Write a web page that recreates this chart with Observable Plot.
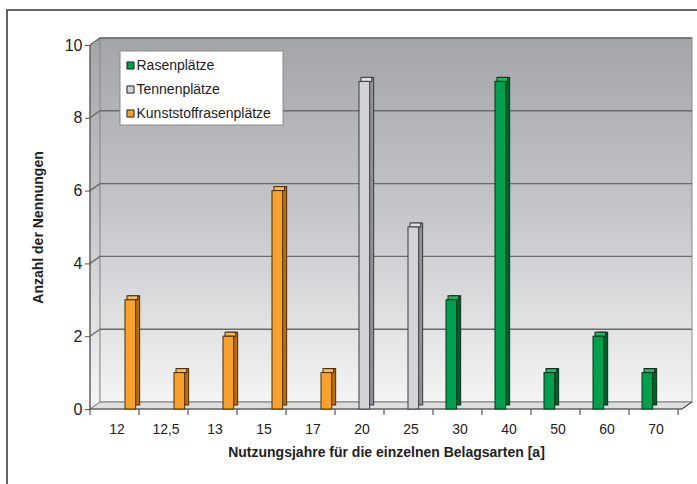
<!DOCTYPE html>
<html><head><meta charset="utf-8">
<script src="https://cdn.jsdelivr.net/npm/d3@7"></script>
<script src="https://cdn.jsdelivr.net/npm/@observablehq/plot@0.6"></script>
<style>body{margin:0;background:#fff;}</style>
</head><body><div id="chart"></div>
<script>
const categories = ["12","12,5","13","15","17","20","25","30","40","50","60","70"];
const seriesNames = ["Rasenplätze","Tennenplätze","Kunststoffrasenplätze"];
const categorySeries = ["Kunststoffrasenplätze","Kunststoffrasenplätze","Kunststoffrasenplätze","Kunststoffrasenplätze","Kunststoffrasenplätze","Tennenplätze","Tennenplätze","Rasenplätze","Rasenplätze","Rasenplätze","Rasenplätze","Rasenplätze"];
const values = [3,1,2,6,1,9,5,3,9,1,2,1];
const yTicks = [0,2,4,6,8,10];
const xTitle = "Nutzungsjahre für die einzelnen Belagsarten [a]";
const yTitle = "Anzahl der Nennungen";

const frontColors = ["#00a04e","#d4d4d8","#f9a12e"];
const topColors = ["#1fb866","#e4e4e8","#fbb955"];
const sideColors = ["#00602d","#909096","#b56d14"];
const edgeColors = ["#0b3018","#3a3a3e","#4a2c00"];

const data = categories.map((c, i) => ({cat: c, series: categorySeries[i], value: values[i]}));

const W = 697, H = 484, mL = 90, mR = 15, mT = 45, mB = 75;
const bw = (W - mL - mR) / categories.length;
const DX = 10, DY = -7;

function chrome(index, scales, vals, dim) {
  const x0 = dim.marginLeft, x1 = dim.width - dim.marginRight;
  const y = scales.y;
  const yb = y(0), yt = y(10);
  const g = d3.create("svg:g");
  // outer border
  g.append("rect").attr("x", 7).attr("y", 10).attr("width", 720).attr("height", 500)
    .attr("fill", "none").attr("stroke", "#333").attr("stroke-width", 1.5);
  const defs = g.append("defs");
  const lg = defs.append("linearGradient").attr("id", "wallGrad")
    .attr("gradientUnits", "userSpaceOnUse")
    .attr("x1", 0).attr("y1", yt + DY).attr("x2", 0).attr("y2", yb);
  lg.append("stop").attr("offset", "0%").attr("stop-color", "#a4a5a9");
  lg.append("stop").attr("offset", "45%").attr("stop-color", "#c3c4c8");
  lg.append("stop").attr("offset", "100%").attr("stop-color", "#f6f6f6");
  // side wall
  g.append("path")
    .attr("d", `M${x0},${yt}L${x0 + DX},${yt + DY}L${x0 + DX},${yb + DY}L${x0},${yb}Z`)
    .attr("fill", "url(#wallGrad)").attr("stroke", "#9a9a9a").attr("stroke-width", 0.8);
  // back wall
  g.append("rect").attr("x", x0 + DX).attr("y", yt + DY).attr("width", x1 - x0).attr("height", yb - yt)
    .attr("fill", "url(#wallGrad)").attr("stroke", "#8a8a8a").attr("stroke-width", 1);
  // gridlines
  for (const t of yTicks.filter(t => t > 0)) {
    const yy = y(t);
    g.append("path").attr("d", `M${x0},${yy}L${x0 + DX},${yy + DY}L${x1 + DX},${yy + DY}`)
      .attr("fill", "none").attr("stroke", "#6a6a6a").attr("stroke-width", 1.4);
  }
  // floor
  g.append("path")
    .attr("d", `M${x0},${yb}L${x0 + DX},${yb + DY}L${x1 + DX},${yb + DY}L${x1},${yb}Z`)
    .attr("fill", "#dedede").attr("stroke", "#7a7a7a").attr("stroke-width", 1);
  // front axis lines
  g.append("path").attr("d", `M${x0},${yt}L${x0},${yb}L${x1},${yb}L${x1 + DX},${yb + DY}`)
    .attr("fill", "none").attr("stroke", "#555").attr("stroke-width", 1.2);
  // x ticks at band boundaries
  const b = scales.x.bandwidth();
  for (let i = 0; i <= categories.length; i++) {
    const xx = x0 + i * b;
    g.append("line").attr("x1", xx).attr("x2", xx).attr("y1", yb).attr("y2", yb + 6)
      .attr("stroke", "#555").attr("stroke-width", 1.2);
  }
  // legend box
  g.append("rect").attr("x", x0 + 30).attr("y", yt + 6).attr("width", 163).attr("height", 74)
    .attr("fill", "#fff").attr("stroke", "#8a8a8a").attr("stroke-width", 1);
  return g.node();
}

const marks = [chrome];
marks.push(Plot.axisY({ticks: yTicks, tickSize: 5, tickPadding: 3, fontSize: 16, stroke: "#555", label: null, color: "#222"}));
marks.push(Plot.axisX({tickSize: 0, tickPadding: 15, fontSize: 14, label: null, color: "#222"}));

seriesNames.forEach((s, i) => {
  const sub = data.filter(d => d.series === s);
  const insetLeft = 11 + 11 * i;
  const insetRight = bw - (22 + 11 * i);
  marks.push(Plot.barY(sub, {x: "cat", y: "value", insetLeft, insetRight, dx: 4, dy: -4,
    fill: sideColors[i], stroke: edgeColors[i], strokeWidth: 1}));
  marks.push(Plot.barY(sub, {x: "cat", y1: "value", y2: "value", insetTop: -4, insetLeft, insetRight, dx: 2,
    fill: topColors[i], stroke: edgeColors[i], strokeWidth: 1}));
  marks.push(Plot.barY(sub, {x: "cat", y: "value", insetLeft, insetRight,
    fill: frontColors[i], stroke: edgeColors[i], strokeWidth: 1}));
  // legend entries
  marks.push(Plot.dot([s], {frameAnchor: "top-left", dx: 40, dy: 20 + 24 * i, symbol: "square", r: 4,
    fill: frontColors[i], stroke: "#222", strokeWidth: 1}));
  marks.push(Plot.text([s], {frameAnchor: "top-left", dx: 46, dy: 20 + 24 * i, textAnchor: "start", lineAnchor: "middle",
    fontSize: 14, fill: "#222"}));
});

marks.push(Plot.text([xTitle], {frameAnchor: "bottom", dy: 43, textAnchor: "middle", lineAnchor: "middle",
  fontWeight: "bold", fontSize: 14, fill: "#222"}));
marks.push(Plot.text([yTitle], {frameAnchor: "left", dx: -52, rotate: -90, textAnchor: "middle", lineAnchor: "middle",
  fontWeight: "bold", fontSize: 14, fill: "#222"}));

const chart = Plot.plot({
  width: W, height: H,
  marginLeft: mL, marginRight: mR, marginTop: mT, marginBottom: mB,
  style: {fontFamily: "'Liberation Sans', Arial, sans-serif", background: "transparent", overflow: "visible"},
  x: {type: "band", domain: categories, padding: 0, axis: null},
  y: {domain: [0, 10], axis: null},
  marks
});
document.getElementById("chart").append(chart);
</script>
</body></html>
